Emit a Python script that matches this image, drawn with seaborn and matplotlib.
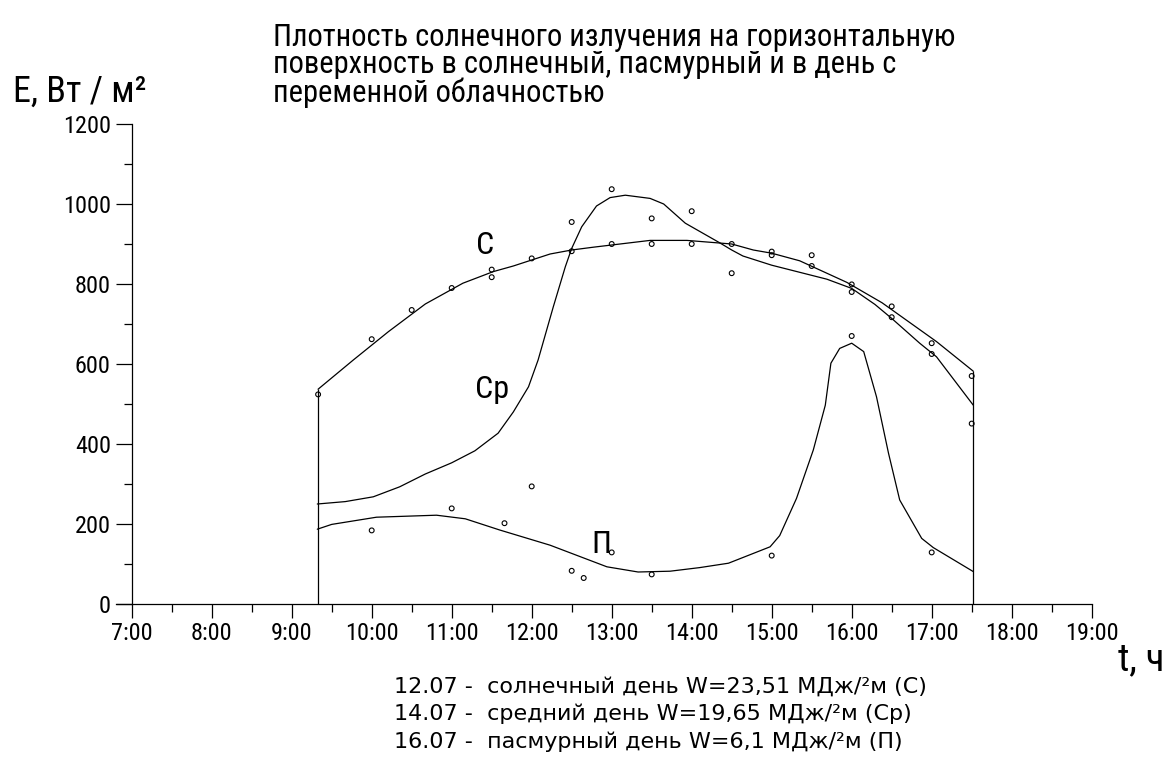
import matplotlib
matplotlib.use("Agg")
import matplotlib.pyplot as plt
import seaborn as sns

# smoothed curves (vertices), hours / W/m2
sun_t = [9.33, 9.77, 10.21, 10.67, 11.14, 11.52, 11.77, 12.23, 12.5, 12.77, 13.48,
         13.94, 14.5, 14.77, 15.0, 15.35, 15.94, 16.38, 17.06, 17.52]
sun_e = [537, 610, 681, 750, 802, 831, 845, 875, 885, 892, 909,
         909, 900, 885, 877, 858, 804, 753, 656, 582]

avg_t = [9.32, 9.67, 10.02, 10.35, 10.67, 11.0, 11.29, 11.58, 11.77, 11.96, 12.08,
         12.27, 12.42, 12.5, 12.625, 12.81, 12.98, 13.17, 13.48, 13.65, 13.92, 14.35,
         14.5, 14.64, 15.0, 15.69, 16.0, 16.29, 16.5, 16.85, 17.06, 17.52]
avg_e = [250, 256, 268, 293, 325, 353, 383, 427, 480, 543, 610,
         743, 843, 889, 943, 995, 1016, 1022, 1014, 1000, 952, 903,
         885, 870, 847, 812, 789, 749, 714, 652, 618, 497]

cld_t = [9.32, 9.5, 10.06, 10.81, 11.17, 11.6, 12.23, 12.94, 13.33, 13.73, 14.1,
         14.46, 14.98, 15.1, 15.31, 15.52, 15.67, 15.74, 15.85, 16.0, 16.15, 16.31,
         16.46, 16.6, 16.875, 17.02, 17.52]
cld_e = [187, 199, 217, 222, 213, 185, 147, 93, 80, 82, 91,
         102, 143, 171, 264, 385, 497, 602, 639, 652, 631, 518,
         377, 260, 164, 141, 81]

# measured points
sun_pt_t = [9.33, 10.0, 10.5, 11.0, 11.5, 12.0, 12.5, 13.0, 13.5, 14.0, 14.5,
            15.0, 15.5, 16.0, 16.5, 17.0, 17.5]
sun_pt_e = [524, 662, 735, 790, 836, 864, 882, 900, 900, 900, 900,
            881, 872, 799, 744, 652, 570]
avg_pt_t = [11.5, 12.5, 13.0, 13.5, 14.0, 14.5, 15.0, 15.5, 16.0, 16.5, 17.0, 17.5]
avg_pt_e = [817, 955, 1037, 964, 982, 827, 872, 845, 780, 717, 625, 451]
cld_pt_t = [10.0, 11.0, 11.66, 12.0, 12.5, 12.65, 13.0, 13.5, 15.0, 16.0, 17.0]
cld_pt_e = [184, 239, 202, 294, 83, 65, 129, 74, 121, 670, 129]

hours = list(range(7, 20))
hour_labels = [f"{h}:00" for h in hours]
half_hours = [h + 0.5 for h in range(7, 19)]

title_lines = ["Плотность солнечного излучения на горизонтальную",
               "поверхность в солнечный, пасмурный и в день с",
               "переменной облачностью"]
note_lines = ["12.07 -  солнечный день W=23,51 МДж/²м (С)",
              "14.07 -  средний день W=19,65 МДж/²м (Ср)",
              "16.07 -  пасмурный день W=6,1 МДж/²м (П)"]

sns.set_theme(style="white")
plt.rcParams["font.family"] = ["Roboto Condensed", "DejaVu Sans"]
plt.rcParams["text.color"] = "black"
plt.rcParams["xtick.color"] = "black"
plt.rcParams["ytick.color"] = "black"

W, H = 1176, 771
fig = plt.figure(figsize=(W / 100, H / 100), dpi=100)
ax = fig.add_axes([115.7 / W, (H - 604) / H, 1016 / W, 480 / H])

lw = 0.9
for t, e in [(sun_t, sun_e), (avg_t, avg_e), (cld_t, cld_e)]:
    sns.lineplot(x=t, y=e, sort=False, estimator=None, color="black", linewidth=lw, ax=ax)

# vertical bounds of the day at the ends of the sunny curve
ax.vlines([sun_t[0], sun_t[-1]], 0, [sun_e[0], sun_e[-1]], color="black", linewidth=lw)

for t, e in [(sun_pt_t, sun_pt_e), (avg_pt_t, avg_pt_e), (cld_pt_t, cld_pt_e)]:
    sns.scatterplot(x=t, y=e, marker="o", s=12, ax=ax)
    pts = ax.collections[-1]
    pts.set_facecolor("none")
    pts.set_edgecolor("black")
    pts.set_linewidth(0.8)
    pts.set_clip_on(False)

ax.set_xlim(6.8, 19.5)
ax.set_ylim(0, 1200)
for s in ["top", "right"]:
    ax.spines[s].set_visible(False)
ax.spines["left"].set_position(("data", 7))
ax.spines["left"].set_bounds(0, 1200)
ax.spines["bottom"].set_bounds(6.8, 19)
for s in ["left", "bottom"]:
    ax.spines[s].set_color("black")
    ax.spines[s].set_linewidth(lw)

ax.set_xticks(hours)
ax.set_xticklabels(hour_labels)
ax.set_xticks(half_hours, minor=True)
ax.set_yticks(range(0, 1201, 200))
ax.set_yticks(range(100, 1200, 200), minor=True)
ax.tick_params(axis="both", which="both", direction="out", color="black", width=lw,
               labelsize=17.5, labelcolor="black", bottom=True, left=True)
ax.tick_params(axis="x", which="major", length=10, pad=3)
ax.tick_params(axis="x", which="minor", length=5.8)
ax.tick_params(axis="y", which="major", length=11.5, pad=3.5)
ax.tick_params(axis="y", which="minor", length=5.8)
ax.set_xlabel("")
ax.set_ylabel("")

# curve labels
ax.text(11.42, 897, "С", fontsize=23, ha="center", va="center")
ax.text(11.51, 535, "Ср", fontsize=23, ha="center", va="center")
ax.text(12.87, 148, "П", fontsize=23, ha="center", va="center")

def ftext(x, y, s, **kw):
    kw.setdefault("va", "baseline")
    fig.text(x / W, 1 - y / H, s, **kw)

ftext(13, 102, "Е, Вт / м²", fontsize=26)
ftext(1118, 670, "t, ч", fontsize=28)
ftext(273, 23.5, "\n".join(title_lines), fontsize=22, va="top", linespacing=0.91)
for i, line in enumerate(note_lines):
    ftext(394, 693 + 27.5 * i, line, fontsize=16, family=["DejaVu Sans"])

fig.savefig("out.png", dpi=100, facecolor="white")
